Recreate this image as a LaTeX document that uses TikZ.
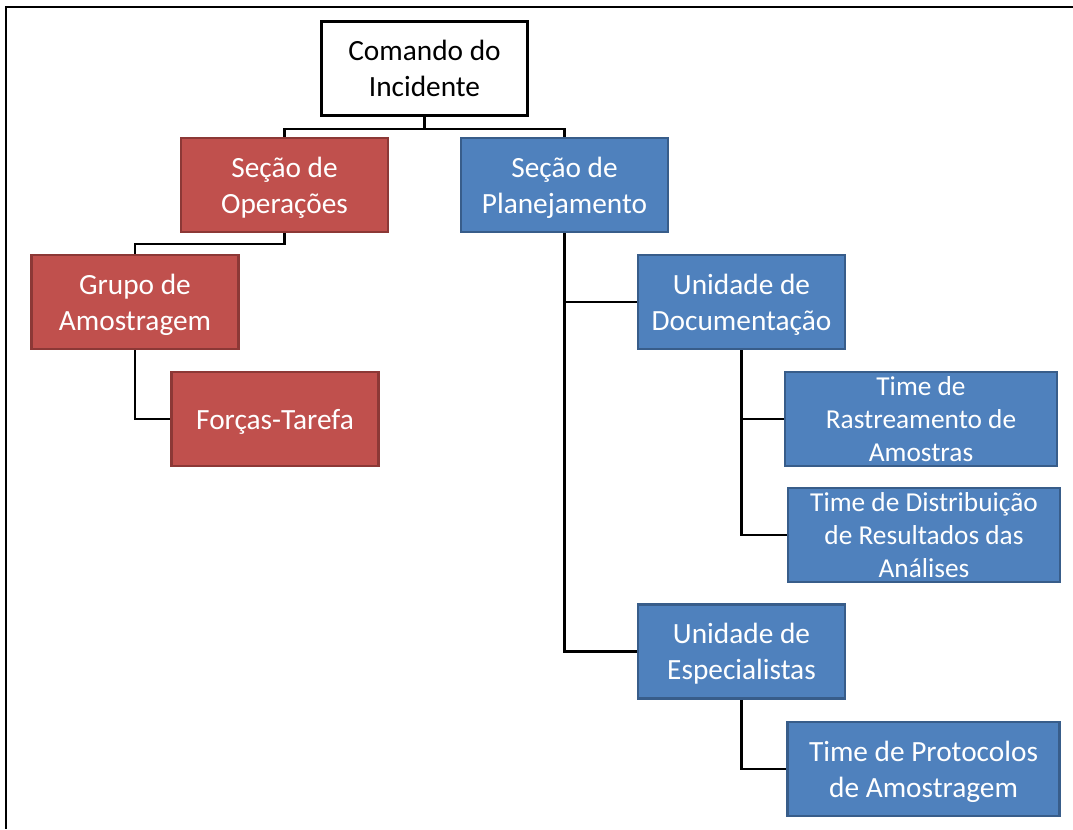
\documentclass[tikz,border=0pt]{standalone}
\usepackage{fontspec}
\setmainfont{Carlito}
\usepackage{tikz}
\usetikzlibrary{positioning}
\definecolor{opsred}{HTML}{C0504D}
\definecolor{opsredline}{HTML}{8C3836}
\definecolor{planblue}{HTML}{4F81BD}
\definecolor{planblueline}{HTML}{385D8A}

\begin{document}
\begin{tikzpicture}[
    x=0.75pt, y=-0.75pt,
    unit/.style={rectangle, draw, line width=1.9pt, inner sep=0pt, minimum width=155pt, minimum height=70.5pt, text depth=0pt, align=center, text=white, font=\fontsize{22}{27}\selectfont},
    team/.style={unit, minimum width=204pt, font=\fontsize{20.5}{25}\selectfont},
    red/.style={fill=opsred, draw=opsredline},
    blue/.style={fill=planblue, draw=planblueline},
    link/.style={line width=1.8pt}
]
    \useasboundingbox (0,0) rectangle (1073,829);
    % frame
    \draw[line width=2pt] (1073,7) -- (6,7) -- (6,829);

    \node[unit, fill=white, draw=black, line width=2.4pt, text=black] (cmd) at (424.5,68.5) {Comando do\\Incidente};
    \node[unit, red] (ops) at (284.5,185) {Seção de\\Operações};
    \node[unit, blue] (plan) at (564.5,185) {Seção de\\Planejamento};
    \node[unit, red] (grp) at (135,302) {Grupo de\\Amostragem};
    \node[unit, red] (task) at (275,419) {Forças-Tarefa};
    \node[unit, blue] (doc) at (741.5,302) {Unidade de\\Documentação};
    \node[team, blue] (track) at (921,419) {Time de\\Rastreamento de\\Amostras};
    \node[team, blue] (dist) at (924,535) {Time de Distribuição\\de Resultados das\\Análises};
    \node[unit, blue] (spec) at (741.5,651.5) {Unidade de\\Especialistas};
    \node[team, blue, font=\fontsize{22}{27}\selectfont] (prot) at (923.5,769) {Time de Protocolos\\de Amostragem};

    \draw[link] (cmd.south) -- ++(0,12) -| (ops.north);
    \draw[link] (cmd.south) -- ++(0,12) -| (plan.north);
    \draw[link] (ops.south) -- ++(0,11) -| (grp.north);
    \draw[link] (grp.south) |- (task.west);
    \draw[link] (plan.south) |- (doc.west);
    \draw[link] (plan.south) |- (spec.west);
    \draw[link] (doc.south) |- (track.west);
    \draw[link] (doc.south) |- (dist.west);
    \draw[link] (spec.south) |- (prot.west);
\end{tikzpicture}
\end{document}
